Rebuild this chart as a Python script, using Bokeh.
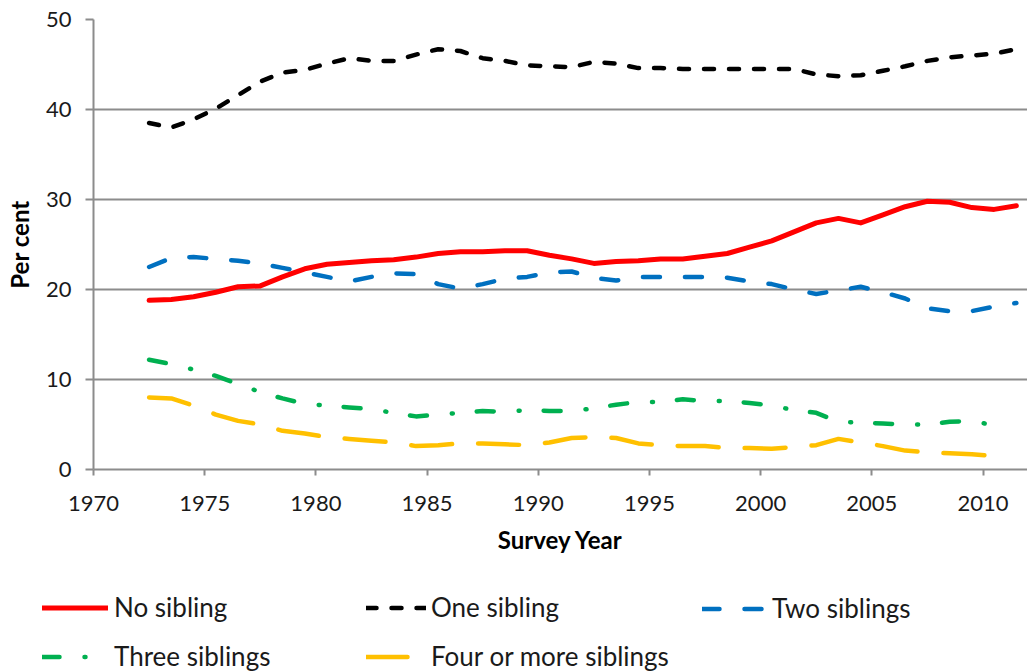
from bokeh.plotting import figure
from bokeh.models import Legend, LegendItem, FixedTicker, Range1d
from bokeh.embed import file_html
from bokeh.resources import INLINE

# Survey years (values are drawn at the middle of each year)
years = [1972, 1973, 1974, 1975, 1976, 1977, 1978, 1979, 1980, 1981,
         1982, 1983, 1984, 1985, 1986, 1987, 1988, 1989, 1990, 1991,
         1992, 1993, 1994, 1995, 1996, 1997, 1998, 1999, 2000, 2001,
         2002, 2003, 2004, 2005, 2006, 2007, 2008, 2009, 2010, 2011]

no_sibling = [18.8, 18.9, 19.2, 19.7, 20.3, 20.4, 21.4, 22.3, 22.8, 23.0,
              23.2, 23.3, 23.6, 24.0, 24.2, 24.2, 24.3, 24.3, 23.8, 23.4,
              22.9, 23.1, 23.2, 23.4, 23.4, 23.7, 24.0, 24.7, 25.4, 26.4,
              27.4, 27.9, 27.4, 28.3, 29.2, 29.8, 29.7, 29.1, 28.9, 29.3]

one_sibling = [38.5, 38.0, 38.9, 40.1, 41.6, 43.1, 44.1, 44.4, 45.1, 45.7,
               45.4, 45.4, 46.1, 46.7, 46.5, 45.7, 45.4, 44.9, 44.8, 44.7,
               45.3, 45.1, 44.6, 44.6, 44.5, 44.5, 44.5, 44.5, 44.5, 44.5,
               43.9, 43.7, 43.8, 44.3, 44.8, 45.4, 45.8, 46.0, 46.2, 46.7]

two_siblings = [22.5, 23.5, 23.6, 23.4, 23.2, 22.9, 22.4, 21.9, 21.4, 20.9,
                21.4, 21.8, 21.7, 20.6, 20.1, 20.6, 21.2, 21.4, 21.9, 22.0,
                21.3, 21.0, 21.4, 21.4, 21.4, 21.4, 21.3, 20.9, 20.6, 20.0,
                19.5, 19.9, 20.3, 19.7, 19.0, 17.9, 17.6, 17.6, 18.1, 18.5]

three_siblings = [12.2, 11.7, 11.1, 10.4, 9.5, 8.6, 7.9, 7.3, 7.1, 6.9,
                  6.7, 6.3, 5.9, 6.1, 6.3, 6.5, 6.4, 6.6, 6.5, 6.5,
                  6.8, 7.2, 7.5, 7.5, 7.8, 7.6, 7.6, 7.4, 7.1, 6.6,
                  6.3, 5.3, 5.2, 5.1, 5.0, 5.0, 5.3, 5.4, 4.9]

four_plus = [8.0, 7.9, 7.1, 6.1, 5.4, 5.0, 4.3, 4.0, 3.6, 3.4,
             3.2, 3.0, 2.6, 2.7, 2.9, 2.9, 2.8, 2.7, 3.0, 3.5,
             3.6, 3.5, 2.9, 2.7, 2.6, 2.6, 2.4, 2.4, 2.3, 2.5,
             2.7, 3.4, 3.0, 2.6, 2.1, 1.9, 1.8, 1.7, 1.5]

x_ticks = [1970, 1975, 1980, 1985, 1990, 1995, 2000, 2005, 2010]
y_ticks = [0, 10, 20, 30, 40, 50]

FONT = "Lato"
GRID = "#8c8c8c"

STYLES = {
    "No sibling": dict(line_color="#FF0000", line_width=5, line_dash="solid"),
    "One sibling": dict(line_color="#000000", line_width=4.5, line_dash="10 15"),
    "Two siblings": dict(line_color="#0070C0", line_width=4.5, line_dash="17 25"),
    "Three siblings": dict(line_color="#00B050", line_width=4.5, line_dash="17 25 1 24"),
    "Four or more siblings": dict(line_color="#FFC000", line_width=4.5, line_dash="41 26"),
}
common = dict(line_cap="round", line_join="round")

xs = [y + 0.5 for y in years]

# ---------------- main chart ----------------
p = figure(width=1027, height=583, output_backend="svg", toolbar_location=None,
           x_range=Range1d(1970, 2012), y_range=Range1d(0, 50),
           min_border_left=93, min_border_right=0, min_border_top=19,
           min_border_bottom=114)
p.outline_line_color = None
p.background_fill_color = "white"
p.border_fill_color = "white"

p.xgrid.grid_line_color = None
p.ygrid.grid_line_color = GRID
p.ygrid.grid_line_width = 2
p.ygrid.ticker = FixedTicker(ticks=y_ticks)

p.xaxis.ticker = FixedTicker(ticks=x_ticks)
p.yaxis.ticker = FixedTicker(ticks=y_ticks)

for ax in (p.xaxis, p.yaxis):
    ax.axis_line_color = GRID
    ax.axis_line_width = 2
    ax.major_tick_line_color = GRID
    ax.major_tick_line_width = 2
    ax.major_tick_in = 0
    ax.minor_tick_line_color = None
    ax.major_label_text_font = FONT
    ax.major_label_text_font_size = "22px"
    ax.major_label_text_color = "#1a1a1a"
    ax.axis_label_text_font = FONT
    ax.axis_label_text_font_size = "24px"
    ax.axis_label_text_font_style = "bold"
    ax.axis_label_text_color = "black"

p.xaxis.major_tick_out = 6
p.yaxis.major_tick_out = 8
p.xaxis.major_label_standoff = 20
p.yaxis.major_label_standoff = 14
p.xaxis.axis_label = "Survey Year"
p.yaxis.axis_label = "Per cent"
p.xaxis.axis_label_standoff = 11
p.yaxis.axis_label_standoff = 9

p.line(xs[:len(four_plus)], four_plus, **STYLES["Four or more siblings"], **common)
p.line(xs[:len(three_siblings)], three_siblings, **STYLES["Three siblings"], **common)
p.line(xs, two_siblings, **STYLES["Two siblings"], **common)
p.line(xs, no_sibling, **STYLES["No sibling"], **common)
p.line(xs, one_sibling, **STYLES["One sibling"], **common)

# ---------------- legend strip (separate root, no frame alignment) ----------------
q = figure(width=1027, height=89, output_backend="svg", toolbar_location=None,
           x_range=Range1d(0, 1027), y_range=Range1d(0, 89),
           x_axis_type=None, y_axis_type=None,
           min_border_left=0, min_border_right=0, min_border_top=0,
           min_border_bottom=0)
q.outline_line_color = None
q.background_fill_color = "white"
q.border_fill_color = "white"
q.grid.visible = False

nan = float("nan")
keys = {name: q.line(x=[nan], y=[nan], **STYLES[name], **common) for name in STYLES}


def make_legend(names, loc, gw, standoff):
    return Legend(items=[LegendItem(label=n, renderers=[keys[n]]) for n in names],
                  location=loc, orientation="vertical",
                  glyph_width=gw, glyph_height=31, label_height=31, spacing=17,
                  label_standoff=standoff, padding=0, margin=0,
                  border_line_color=None, background_fill_alpha=0,
                  label_text_font=FONT, label_text_font_size="26px",
                  label_text_color="#1a1a1a")


for lg in (make_legend(["No sibling", "Three siblings"], (42, 0), 66, 6),
           make_legend(["One sibling", "Four or more siblings"], (366, 0), 60, 5),
           make_legend(["Two siblings"], (702, 48), 64, 6)):
    q.add_layout(lg)

open("out.html", "w").write(file_html([p, q], INLINE))
